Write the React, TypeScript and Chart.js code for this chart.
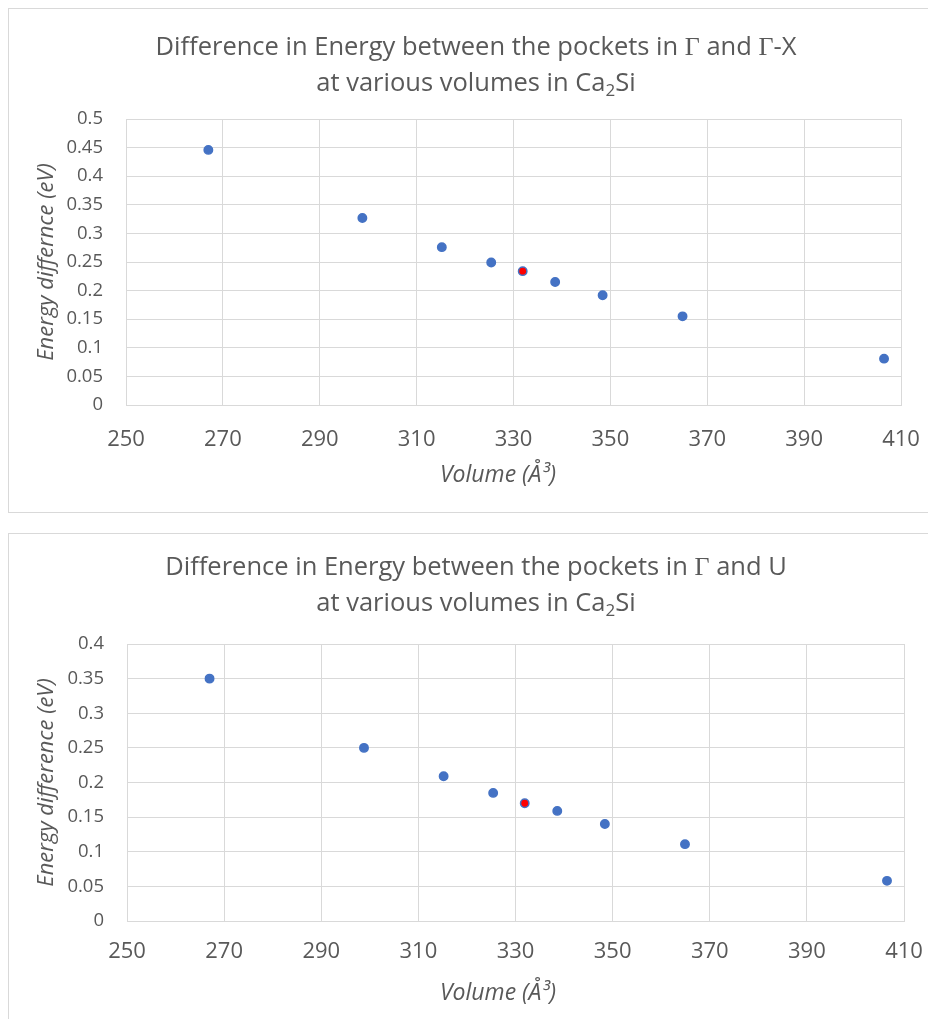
import React, { useEffect, useRef } from "react";
import { Chart, registerables } from "chart.js";

Chart.register(...registerables);

// Unit-cell volumes (Å³) shared by both panels
const volumes = [267, 298.8, 315.2, 325.4, 331.9, 338.6, 348.4, 364.9, 406.5];

// Energy gap between the pocket at Γ and the one on Γ-X (eV)
const gapGammaX = [0.446, 0.327, 0.276, 0.249, 0.234, 0.215, 0.192, 0.155, 0.081];

// Energy gap between the pocket at Γ and the one at U (eV)
const gapGammaU = [0.35, 0.25, 0.209, 0.185, 0.17, 0.159, 0.14, 0.111, 0.058];

// The equilibrium volume is marked with a red centre
const equilibriumIndex = 4;

const volumeTicks = [250, 270, 290, 310, 330, 350, 370, 390, 410];
const gapTicksGammaX = [0, 0.05, 0.1, 0.15, 0.2, 0.25, 0.3, 0.35, 0.4, 0.45, 0.5];
const gapTicksGammaU = [0, 0.05, 0.1, 0.15, 0.2, 0.25, 0.3, 0.35, 0.4];

const SANS = "'Open Sans', 'DejaVu Sans', sans-serif";
const SERIF = "'Liberation Serif', 'DejaVu Serif', serif";
const TEXT = "#595959";
const GRID = "#d9d9d9";
const BLUE = "#4472C4";

type Run = { text: string; font: string; dy?: number };

type PanelSpec = {
  top: number;
  titleLines: Run[][];
  titleBaselines: number[];
  yTitle: string;
  values: number[];
  yTicks: number[];
  yWidth: number;
  xHeight: number;
  rightPad: number;
  xTickPad: number;
  xTitleY: number;
};

const titleFont = `25.5px ${SANS}`;
const greekFont = `26px ${SERIF}`;
const subFont = `17px ${SANS}`;

const panels: PanelSpec[] = [
  {
    top: 8,
    titleLines: [
      [
        { text: "Difference in Energy between the pockets in ", font: titleFont },
        { text: "Γ", font: greekFont },
        { text: " and ", font: titleFont },
        { text: "Γ", font: greekFont },
        { text: "-X", font: titleFont },
      ],
      [
        { text: "at various volumes in Ca", font: titleFont },
        { text: "2", font: subFont, dy: 5 },
        { text: "Si", font: titleFont },
      ],
    ],
    titleBaselines: [46, 82],
    yTitle: "Energy differnce (eV)",
    values: gapGammaX,
    yTicks: gapTicksGammaX,
    yWidth: 117,
    xHeight: 107,
    rightPad: 42,
    xTickPad: 22,
    xTitleY: 466,
  },
  {
    top: 533,
    titleLines: [
      [
        { text: "Difference in Energy between the pockets in ", font: titleFont },
        { text: "Γ", font: greekFont },
        { text: " and U", font: titleFont },
      ],
      [
        { text: "at various volumes in Ca", font: titleFont },
        { text: "2", font: subFont, dy: 5 },
        { text: "Si", font: titleFont },
      ],
    ],
    titleBaselines: [41, 77],
    yTitle: "Energy difference (eV)",
    values: gapGammaU,
    yTicks: gapTicksGammaU,
    yWidth: 118,
    xHeight: 116,
    rightPad: 39,
    xTickPad: 18,
    xTitleY: 459,
  },
];

const CANVAS_W = 934;
const CANVAS_H = 503;
const TITLE_CX = 467;
const X_TITLE_CX = 489;

// Draws the two-line chart title (mixed fonts, subscript) and the x-axis title
function makeTextPlugin(spec: PanelSpec) {
  return {
    id: "panelText",
    afterDraw(chart: Chart) {
      const ctx = chart.ctx;
      ctx.save();
      ctx.fillStyle = TEXT;
      ctx.textBaseline = "alphabetic";
      ctx.textAlign = "left";
      spec.titleLines.forEach((line, i) => {
        const widths = line.map((r) => {
          ctx.font = r.font;
          return ctx.measureText(r.text).width;
        });
        const total = widths.reduce((a, b) => a + b, 0);
        let x = TITLE_CX - total / 2;
        line.forEach((r, j) => {
          ctx.font = r.font;
          ctx.fillText(r.text, x, spec.titleBaselines[i] + (r.dy || 0));
          x += widths[j];
        });
      });
      ctx.font = `italic 23px ${SANS}`;
      ctx.textAlign = "center";
      ctx.textBaseline = "middle";
      ctx.fillText("Volume (Å³)", X_TITLE_CX, spec.xTitleY);
      ctx.restore();
    },
  };
}

function ScatterPanel({ spec }: { spec: PanelSpec }) {
  const ref = useRef<HTMLCanvasElement>(null);

  useEffect(() => {
    const canvas = ref.current;
    if (!canvas) return;
    const points = volumes.map((v, i) => ({ x: v, y: spec.values[i] }));
    const fills = volumes.map((_, i) => (i === equilibriumIndex ? "#ff0000" : BLUE));
    const chart = new Chart(canvas, {
      type: "scatter",
      data: {
        datasets: [
          {
            data: points,
            backgroundColor: fills,
            borderColor: BLUE,
            borderWidth: 1.5,
            pointRadius: 4.2,
            pointHoverRadius: 4.2,
          },
        ],
      },
      options: {
        responsive: false,
        animation: false,
        devicePixelRatio: 1,
        layout: { padding: { top: 110, right: spec.rightPad, bottom: 0, left: 0 } },
        plugins: {
          legend: { display: false },
          title: { display: false },
          tooltip: { enabled: false },
        },
        scales: {
          x: {
            type: "linear",
            min: volumeTicks[0],
            max: volumeTicks[volumeTicks.length - 1],
            afterBuildTicks: (scale: any) => {
              scale.ticks = volumeTicks.map((v) => ({ value: v }));
            },
            afterFit: (scale: any) => {
              scale.height = spec.xHeight;
            },
            grid: { color: GRID, lineWidth: 1, drawTicks: false },
            border: { color: GRID, width: 1 },
            ticks: {
              color: TEXT,
              padding: spec.xTickPad,
              maxRotation: 0,
              font: { family: SANS, size: 22 },
              callback: (v: any) => String(v),
            },
          },
          y: {
            type: "linear",
            min: spec.yTicks[0],
            max: spec.yTicks[spec.yTicks.length - 1],
            afterBuildTicks: (scale: any) => {
              scale.ticks = spec.yTicks.map((v) => ({ value: v }));
            },
            afterFit: (scale: any) => {
              scale.width = spec.yWidth;
            },
            grid: { color: GRID, lineWidth: 1, drawTicks: false },
            border: { color: GRID, width: 1 },
            ticks: {
              color: TEXT,
              padding: 23,
              font: { family: SANS, size: 18.5 },
              callback: (v: any) => String(v),
            },
            title: {
              display: true,
              text: spec.yTitle,
              color: TEXT,
              padding: { top: 25, bottom: 0 },
              font: { family: SANS, size: 22, style: "italic" },
            },
          },
        },
      },
      plugins: [makeTextPlugin(spec)],
    } as any);
    return () => chart.destroy();
  }, [spec]);

  return (
    <div
      style={{
        position: "absolute",
        left: 8,
        top: spec.top,
        width: CANVAS_W + 2,
        height: CANVAS_H + 2,
        border: `1px solid ${GRID}`,
        boxSizing: "border-box",
        background: "#ffffff",
      }}
    >
      <canvas ref={ref} width={CANVAS_W} height={CANVAS_H} style={{ display: "block" }} />
    </div>
  );
}

export default function App() {
  return (
    <div
      style={{
        position: "fixed",
        left: 0,
        top: 0,
        width: 928,
        height: 1019,
        overflow: "hidden",
        background: "#ffffff",
      }}
    >
      {panels.map((p, i) => (
        <ScatterPanel key={i} spec={p} />
      ))}
    </div>
  );
}
